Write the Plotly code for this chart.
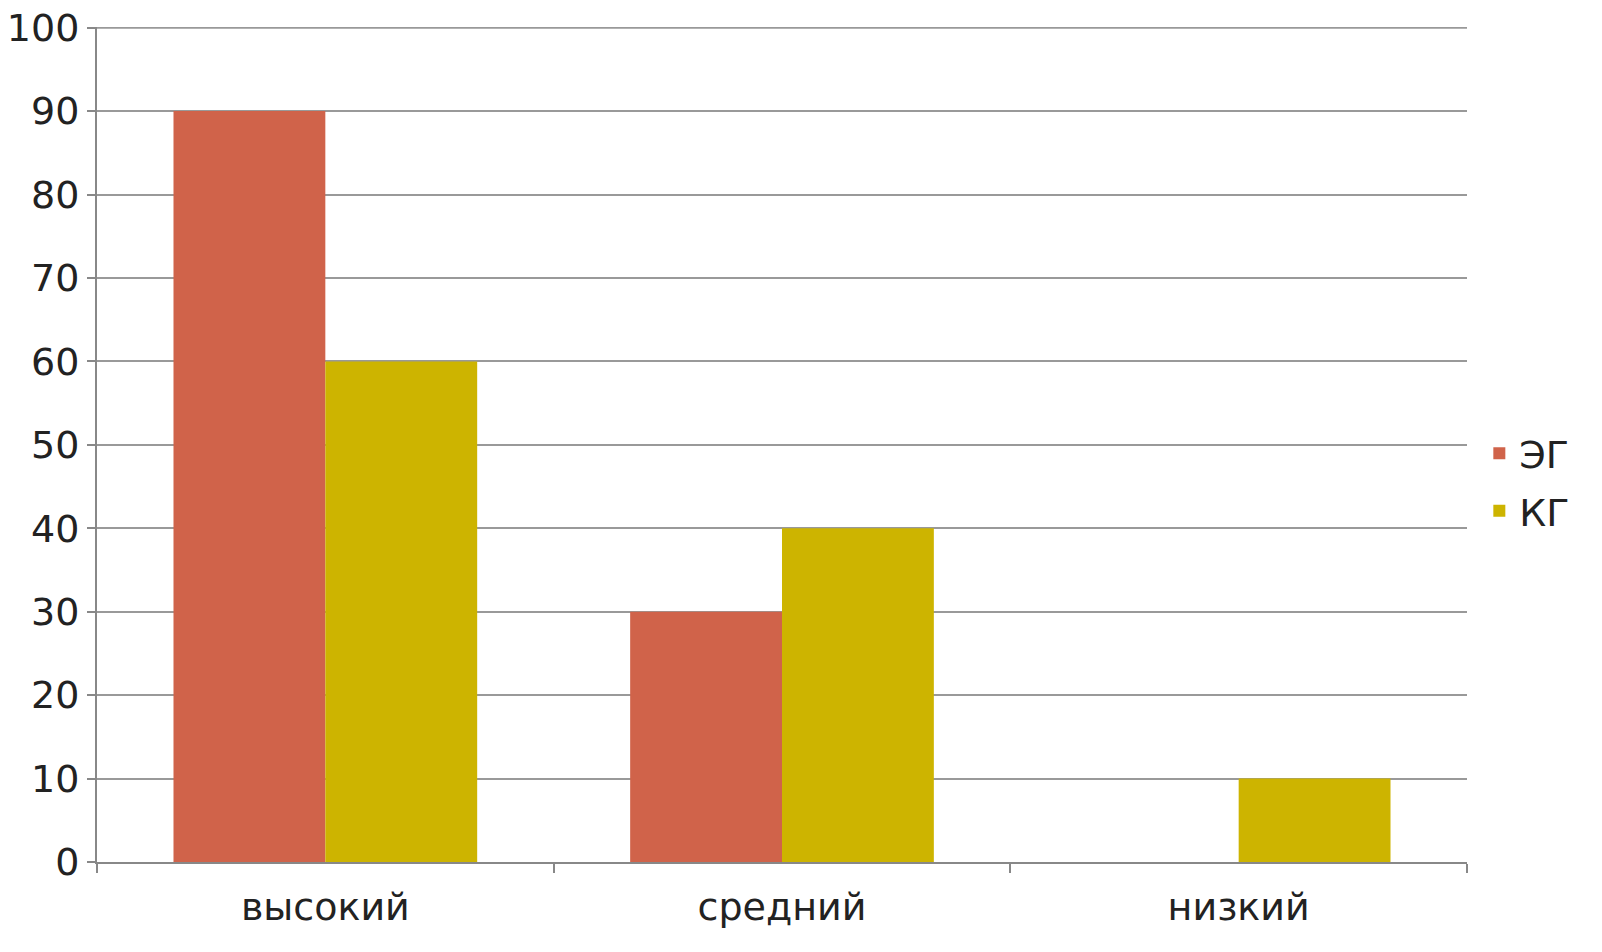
import plotly.graph_objects as go

categories = ["высокий", "средний", "низкий"]
eg_values = [90, 30, 0]
kg_values = [60, 40, 10]
series_names = ["ЭГ", "КГ"]
y_ticks = [0, 10, 20, 30, 40, 50, 60, 70, 80, 90, 100]

fig = go.Figure()
fig.add_trace(go.Bar(x=categories, y=eg_values, name=series_names[0], legendgroup="g1",
                     marker=dict(color="#D0634A", line=dict(width=0))))
fig.add_trace(go.Bar(x=categories, y=kg_values, name=series_names[1], legendgroup="g2",
                     marker=dict(color="#CDB400", line=dict(width=0))))

font = dict(family="DejaVu Sans", size=38, color="#222222")
fig.update_layout(
    width=1602, height=952,
    margin=dict(l=97, r=135, t=27, b=90, autoexpand=False),
    paper_bgcolor="white", plot_bgcolor="white",
    barmode="group", bargap=0.335, bargroupgap=0,
    font=font,
    showlegend=True,
    legend=dict(x=1.009, y=0.455, xanchor="left", yanchor="middle",
                font=dict(family="DejaVu Sans", size=38, color="#222222"),
                itemwidth=30, traceorder="grouped", tracegroupgap=5,
                bgcolor="rgba(0,0,0,0)"),
    xaxis=dict(showgrid=False, showline=True, linecolor="#888888", linewidth=2,
               ticks="outside", tickson="boundaries", ticklen=9, tickcolor="#888888",
               tickwidth=2, tickfont=font, automargin=False, ticklabelstandoff=10),
    yaxis=dict(range=[0, 100.08], tickvals=y_ticks, showgrid=True, gridcolor="#999999",
               gridwidth=2, showline=True, linecolor="#888888", linewidth=2,
               ticks="outside", ticklen=8, tickcolor="#888888", tickwidth=2,
               tickfont=font, zeroline=False, automargin=False),
)
# top gridline (plotly drops the grid line at the very edge of the range)
fig.add_shape(type="line", xref="paper", yref="y", x0=0, x1=1,
              y0=max(y_ticks), y1=max(y_ticks),
              line=dict(color="#999999", width=2), layer="below")
fig.write_html("out.html", config={"displayModeBar": False},
               post_script="document.body.style.margin='0';")
